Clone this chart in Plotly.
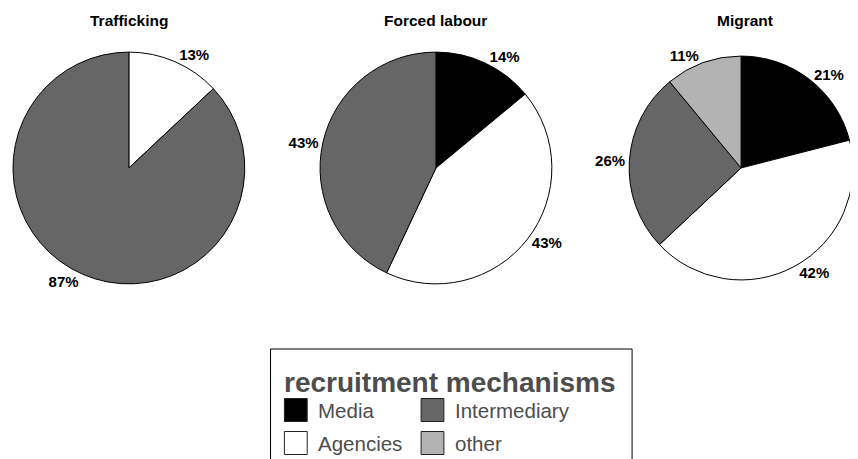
import plotly.graph_objects as go

# ── Data ──────────────────────────────────────────────────────
CATEGORIES = ["Media", "Agencies", "Intermediary", "other"]
COLORS = ["#000000", "#ffffff", "#666666", "#b3b3b3"]

PANELS = ["Trafficking", "Forced labour", "Migrant"]
TRAFFICKING = [0, 13, 87, 0]
FORCED_LABOUR = [14, 43, 43, 0]
MIGRANT = [21, 42, 26, 11]

LEGEND_TITLE = "recruitment mechanisms"
LEGEND_ORDER = ["Media", "Intermediary", "Agencies", "other"]

# page body has an 8px margin, so the figure is 8px smaller than the window
OFF = 8
W, H = 858 - OFF, 459 - OFF
FONT = "Arial, Liberation Sans, sans-serif"


def px(x, y):
    """Window pixel position (from top-left) to paper coordinates."""
    return (x - OFF) / W, 1 - (y - OFF) / H


# pie domains in window pixels: (left, right, top, bottom)
DOMAINS = [(10, 244, 51, 285), (320, 554, 51, 285), (632, 858, 51, 285)]
TITLE_X = [127, 437, 749]

fig = go.Figure()
for name, vals, (l, r, t, b), tx in zip(PANELS, [TRAFFICKING, FORCED_LABOUR, MIGRANT], DOMAINS, TITLE_X):
    labels = [c for c, v in zip(CATEGORIES, vals) if v > 0]
    values = [v for v in vals if v > 0]
    colors = [COLORS[CATEGORIES.index(c)] for c in labels]
    x0, y1 = px(l, t)
    x1, y0 = px(r, b)
    fig.add_trace(go.Pie(
        labels=labels,
        values=values,
        sort=False,
        direction="clockwise",
        rotation=0,
        marker=dict(colors=colors, line=dict(color="#000000", width=1)),
        texttemplate="<b>%{value}%</b>",
        textposition="outside",
        textfont=dict(family=FONT, size=15, color="#000000"),
        domain=dict(x=[x0, x1], y=[y0, y1]),
        showlegend=False,
        hoverinfo="label+percent",
    ))
    cx, cy = px(tx, 21)
    fig.add_annotation(x=cx, y=cy, xref="paper", yref="paper", text=f"<b>{name}</b>",
                       showarrow=False, xanchor="center", yanchor="middle",
                       font=dict(family=FONT, size=15.5, color="#000000"))

# ── Legend box (drawn by hand for large swatches) ─────────────
bx0, by1 = px(270, 349)
bx1, _ = px(635, 349)
fig.add_shape(type="rect", xref="paper", yref="paper", x0=bx0, x1=bx1, y0=-0.05, y1=by1,
              line=dict(color="#000000", width=1), fillcolor="#ffffff", layer="below")
tx, ty = px(282, 382)
fig.add_annotation(x=tx, y=ty, xref="paper", yref="paper", text=f"<b>{LEGEND_TITLE}</b>",
                   showarrow=False, xanchor="left", yanchor="middle",
                   font=dict(family=FONT, size=28, color="#4d4d4d"))

cols = [284, 422]
rows = [410, 443]
for i, cat in enumerate(LEGEND_ORDER):
    sx = cols[i % 2]
    sy = rows[i // 2]
    x0, y0 = px(sx, sy + 11.5)
    x1, y1 = px(sx + 23, sy - 11.5)
    fig.add_shape(type="rect", xref="paper", yref="paper", x0=x0, x1=x1, y0=y0, y1=y1,
                  line=dict(color="#222222", width=1),
                  fillcolor=COLORS[CATEGORIES.index(cat)])
    lx, ly = px(sx + 32, sy)
    fig.add_annotation(x=lx, y=ly, xref="paper", yref="paper", text=cat,
                       showarrow=False, xanchor="left", yanchor="middle",
                       font=dict(family=FONT, size=20.5, color="#4d4d4d"))

fig.update_layout(
    width=W,
    height=H,
    margin=dict(l=0, r=0, t=0, b=0),
    paper_bgcolor="#ffffff",
    plot_bgcolor="#ffffff",
    font=dict(family=FONT),
)

fig.write_html("out.html")
